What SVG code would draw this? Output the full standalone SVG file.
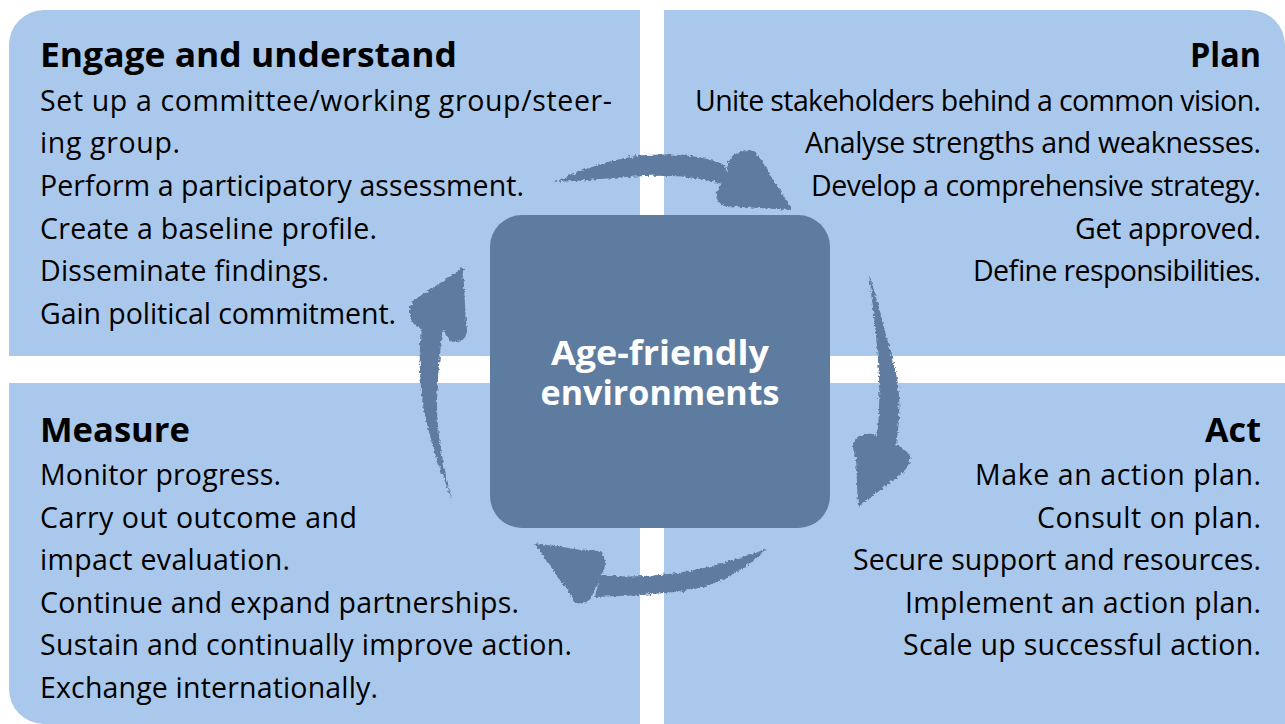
<svg xmlns="http://www.w3.org/2000/svg" width="1285" height="724" viewBox="0 0 1285 724">
<style>
.panel{fill:#aac8eb}
.t{font-family:"Open Sans","Noto Sans",sans-serif;font-size:28.5px;fill:#000}
.h{font-family:"Open Sans","Noto Sans",sans-serif;font-size:34px;font-weight:bold;fill:#000}
.r{text-anchor:end}
.c{font-family:"Open Sans","Noto Sans",sans-serif;font-size:34px;font-weight:bold;fill:#fff;text-anchor:middle}
.arrow{fill:#5e7ba0}
</style>
<defs>
<filter id="rough" x="-10%" y="-10%" width="120%" height="120%">
<feTurbulence type="fractalNoise" baseFrequency="0.35" numOctaves="2" seed="3" result="n"/>
<feDisplacementMap in="SourceGraphic" in2="n" scale="5" xChannelSelector="R" yChannelSelector="G"/>
</filter>
</defs>
<rect width="1285" height="724" fill="#fff"/>
<g id="engage">
<path class="panel" d="M9,356 V45 A35,35 0 0 1 44,10 H640 V356 Z"/>
<text class="h" x="40" y="67" textLength="417" lengthAdjust="spacingAndGlyphs">Engage and understand</text>
<text class="t" x="40" y="111" textLength="572">Set up a committee/working group/steer-</text>
<text class="t" x="40" y="153" textLength="140">ing group.</text>
<text class="t" x="40" y="196" textLength="484">Perform a participatory assessment.</text>
<text class="t" x="40" y="239" textLength="337">Create a baseline profile.</text>
<text class="t" x="40" y="281" textLength="289">Disseminate findings.</text>
<text class="t" x="40" y="324" textLength="356">Gain political commitment.</text>
</g>
<g id="plan">
<path class="panel" d="M664,10 H1250 A35,35 0 0 1 1285,45 V356 H664 Z"/>
<text class="h r" x="1261" y="67" textLength="71" lengthAdjust="spacingAndGlyphs">Plan</text>
<text class="t r" x="1261" y="111" textLength="566">Unite stakeholders behind a common vision.</text>
<text class="t r" x="1261" y="153" textLength="456">Analyse strengths and weaknesses.</text>
<text class="t r" x="1261" y="196" textLength="450">Develop a comprehensive strategy.</text>
<text class="t r" x="1261" y="239" textLength="186">Get approved.</text>
<text class="t r" x="1261" y="281" textLength="288">Define responsibilities.</text>
</g>
<g id="measure">
<path class="panel" d="M9,383 H640 V724 H44 A35,35 0 0 1 9,689 Z"/>
<text class="h" x="40" y="442" textLength="150" lengthAdjust="spacingAndGlyphs">Measure</text>
<text class="t" x="40" y="485" textLength="241">Monitor progress.</text>
<text class="t" x="40" y="528" textLength="317">Carry out outcome and</text>
<text class="t" x="40" y="570" textLength="250">impact evaluation.</text>
<text class="t" x="40" y="613" textLength="479">Continue and expand partnerships.</text>
<text class="t" x="40" y="655" textLength="532">Sustain and continually improve action.</text>
<text class="t" x="40" y="698" textLength="338">Exchange internationally.</text>
</g>
<g id="act">
<path class="panel" d="M664,383 H1285 V724 H664 Z"/>
<text class="h r" x="1261" y="442" textLength="56" lengthAdjust="spacingAndGlyphs">Act</text>
<text class="t r" x="1261" y="485" textLength="286">Make an action plan.</text>
<text class="t r" x="1261" y="528" textLength="224">Consult on plan.</text>
<text class="t r" x="1261" y="570" textLength="408">Secure support and resources.</text>
<text class="t r" x="1261" y="613" textLength="356">Implement an action plan.</text>
<text class="t r" x="1261" y="655" textLength="358">Scale up successful action.</text>
</g>
<g id="connectors" filter="url(#rough)">
<path class="arrow" d="M555,182 C585,168 615,158 645,155 C680,153 705,156 725,165 L728,186 C705,178 680,175 645,176 C615,177 585,181 555,182 Z"/>
<path class="arrow" d="M728,162 C733,150 752,148 760,158 L792,210 L725,206 C714,202 714,190 722,184 C726,178 727,170 728,162 Z"/>
<circle class="arrow" cx="748" cy="162" r="12"/>
<circle class="arrow" cx="728" cy="196" r="10"/>
<path class="arrow" d="M869,275 C878,300 884,330 893,360 C901,390 901,415 896,445 L876,445 C880,415 880,390 878,360 C876,330 872,300 869,275 Z"/>
<path class="arrow" d="M872,434 C858,432 851,445 856,458 L858,507 L904,472 C912,465 910,450 898,446 C890,444 880,438 872,434 Z"/>
<circle class="arrow" cx="864" cy="446" r="11"/>
<circle class="arrow" cx="900" cy="459" r="10"/>
<path class="arrow" d="M767,549 C740,558 715,566 690,571 C660,576 630,578 600,575 L595,597 C630,596 660,594 690,590 C720,584 745,570 767,549 Z"/>
<path class="arrow" d="M604,570 C608,558 596,548 582,550 L534,543 L570,594 C576,604 590,604 592,596 C596,588 600,578 604,570 Z"/>
<circle class="arrow" cx="593" cy="562" r="12"/>
<circle class="arrow" cx="580" cy="595" r="9"/>
<path class="arrow" d="M452,500 C440,470 430,440 424,410 C419,380 419,355 421,325 L443,325 C440,355 437,380 437,410 C438,440 444,470 452,500 Z"/>
<path class="arrow" d="M447,330 C458,340 470,335 466,322 L463,268 L414,300 C406,308 410,325 420,328 C428,330 438,332 447,330 Z"/>
<circle class="arrow" cx="419" cy="315" r="9"/>
<circle class="arrow" cx="456" cy="331" r="11"/>
</g>
<g id="center">
<rect x="490" y="215" width="340" height="313" rx="32" fill="#5e7ba0"/>
<text class="c" x="660" y="365" textLength="218" lengthAdjust="spacingAndGlyphs">Age-friendly</text>
<text class="c" x="660" y="405" textLength="239" lengthAdjust="spacingAndGlyphs">environments</text>
</g>
</svg>
